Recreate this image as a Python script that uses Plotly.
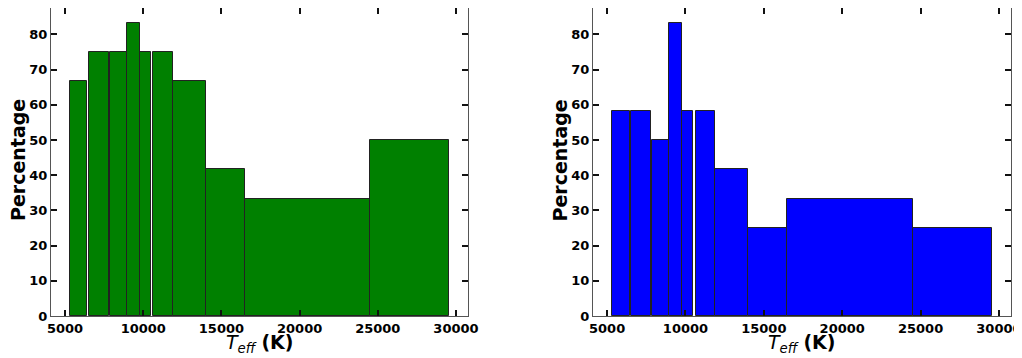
import plotly.graph_objects as go

# Bin edges (K) for both histograms
bin_left = [5330, 6500, 7860, 8980, 9770, 10640, 11900, 14000, 16500, 24500]
bin_right = [6430, 7780, 8980, 9770, 10500, 11900, 14000, 16500, 24500, 29550]

# Percentages
pct_green = [66.67, 75.0, 75.0, 83.33, 75.0, 75.0, 66.67, 41.67, 33.33, 50.0]
pct_blue = [58.33, 58.33, 50.0, 83.33, 58.33, 58.33, 41.67, 25.0, 33.33, 25.0]

x_ticks = [5000, 10000, 15000, 20000, 25000, 30000]
y_ticks = [0, 10, 20, 30, 40, 50, 60, 70, 80]

centers = [(a + b) / 2 for a, b in zip(bin_left, bin_right)]
widths = [b - a for a, b in zip(bin_left, bin_right)]

# page has an 8px body margin, so the figure is placed at (8, 8)
OFF = 8
W, H = 1022 - OFF, 358 - OFF
FONT = "DejaVu Sans"

def px_x(p):
    return (p - OFF) / W

def px_y(p):
    return 1 - (p - OFF) / H

fig = go.Figure()
fig.add_trace(go.Bar(x=centers, y=pct_green, width=widths, marker=dict(color="#008000", line=dict(color="#222222", width=1)),
                     xaxis="x", yaxis="y", showlegend=False))
fig.add_trace(go.Bar(x=centers, y=pct_blue, width=widths, marker=dict(color="#0000ff", line=dict(color="#222222", width=1)),
                     xaxis="x2", yaxis="y2", showlegend=False))

xr = [4100, 30770]
yr = [0, 87.5]
tickfont = dict(family=FONT, size=13, color="black", weight="bold")

def xaxis(domain, anchor):
    return dict(domain=domain, anchor=anchor, range=xr, tickvals=x_ticks, ticktext=[str(v) for v in x_ticks],
                ticks="inside", ticklen=6, tickwidth=1.5, tickcolor="#111", showline=True, linecolor="#555", linewidth=1,
                mirror="ticks", showgrid=False, zeroline=False, automargin=False, tickfont=tickfont,
                ticklabeloverflow="allow")

def yaxis(domain, anchor):
    return dict(domain=domain, anchor=anchor, range=yr, tickvals=y_ticks,
                ticks="inside", ticklen=6, tickwidth=1.5, tickcolor="#111", showline=True, linecolor="#555", linewidth=1,
                mirror="ticks", showgrid=False, zeroline=False, automargin=False, tickfont=tickfont,
                ticklabeloverflow="allow")

xd1 = [px_x(51), px_x(468)]
xd2 = [px_x(593), px_x(1011)]
ydom = [px_y(316), min(1.0, px_y(5.3))]
fig.update_layout(
    width=W, height=H,
    margin=dict(l=0, r=0, t=0, b=0),
    paper_bgcolor="white", plot_bgcolor="white",
    bargap=0,
    xaxis=xaxis(xd1, "y"),
    yaxis=yaxis(ydom, "x"),
    xaxis2=xaxis(xd2, "y2"),
    yaxis2=yaxis(ydom, "x2"),
)

title_font = dict(family=FONT, size=19, color="black")
for xd, ylab_x in [(xd1, 17.5), (xd2, 559)]:
    fig.add_annotation(text="<i>T</i><sub><i>eff</i></sub> <b>(K)</b>", xref="paper", yref="paper",
                       x=(xd[0] + xd[1]) / 2, y=px_y(343), xanchor="center", yanchor="middle",
                       showarrow=False, font=title_font)
    fig.add_annotation(text="<b>Percentage</b>", xref="paper", yref="paper", textangle=-90,
                       x=px_x(ylab_x), y=px_y(160.5), xanchor="center", yanchor="middle",
                       showarrow=False, font=title_font)

fig.write_html("out.html")
